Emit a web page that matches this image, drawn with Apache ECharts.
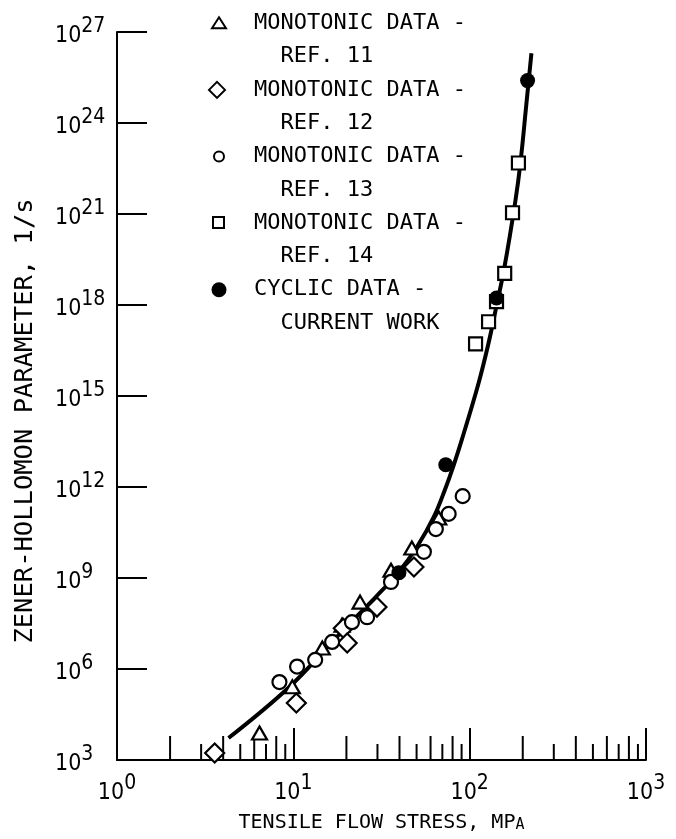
<!DOCTYPE html>
<html><head><meta charset="utf-8">
<script src="https://cdn.jsdelivr.net/npm/echarts@6/dist/echarts.min.js"></script>
<style>html,body{margin:0;padding:0;background:#fff}#c{width:676px;height:839px}</style>
</head><body><div id="c"></div>
<script>
// ---- data ----
const ref11 = [[6.43,7.8e3],[9.87,2.6e5],[14.6,4.9e6],[18.9,2.8e7],[23.9,1.6e8],[35.8,1.8e9],[47,9.8e9],[66.8,9.5e10]];
const ref12 = [[3.58,1.7e3],[10.4,7.6e4],[19.2,2.2e7],[20.2,7.2e6],[29.8,1.1e8],[48.3,2.3e9]];
const ref13 = [[8.34,3.7e5],[10.5,1.2e6],[13.3,2.0e6],[16.6,7.8e6],[21.5,3.5e7],[26.2,5.1e7],[35.8,7.4e8],[55,7.3e9],[64.3,4.1e10],[76,1.3e11],[91.3,5.0e11]];
const ref14 = [[108,5.2e16],[128,2.8e17],[142,1.3e18],[158,1.1e19],[175,1.1e21],[189,4.8e22]];
const cyclic = [[39.7,1.5e9],[73.2,5.4e12],[142,1.7e18],[213,2.5e25]];
const fitStress = [4.29,9.49,16.6,21.8,29.4,39.2,50.2,62.6,72.3,81.2,90.1,112.4,128,140.3,157.6,182,194,210,224];
const fitZ = [5.3e3,2.55e5,7.8e6,4.1e7,2.4e8,1.46e9,1.05e10,1.03e11,8.0e11,5.3e12,3.5e13,2.7e15,5.6e16,6.8e17,1.8e19,2.9e21,4.8e22,4.6e24,2.0e26];
const xMinorTicks = [2,3,4,5,6,7,8,9,20,30,40,50,60,70,80,90,200,300,400,500,600,700,800,900];
const legendLine1 = ['MONOTONIC DATA -','MONOTONIC DATA -','MONOTONIC DATA -','MONOTONIC DATA -','CYCLIC DATA -'];
const legendLine2 = ['REF. 11','REF. 12','REF. 13','REF. 14','CURRENT WORK'];
const xTitle = 'TENSILE FLOW STRESS, MP';
const xTitleSmall = 'A';
const yTitle = 'ZENER-HOLLOMON PARAMETER, 1/s';

const chart = echarts.init(document.getElementById('c'), null, {renderer:'canvas'});
const numFont = "'DejaVu Sans Condensed','Liberation Sans',sans-serif";
const monoFont = "'DejaVu Sans Mono',monospace";
const powRich = {
  b:{fontSize:23,lineHeight:32,fontFamily:numFont,color:'#000',verticalAlign:'bottom'},
  s:{fontSize:21,lineHeight:21,fontFamily:numFont,color:'#000',verticalAlign:'top'}
};
const powFmt = v => '{b|10}{s|' + Math.round(Math.log10(v)) + '}';
const hollow = {color:'#fff',borderColor:'#000',borderWidth:2.2,opacity:1};

// legend graphics
const graphics = [];
const legendTop = 23.3, lineStep = 33.3, symX = 219;
const legendShapes = [
  cy => ({type:'polygon',shape:{points:[[symX,cy-6],[symX+7,cy+5],[symX-7,cy+5]]},style:{fill:'#fff',stroke:'#000',lineWidth:2}}),
  cy => ({type:'polygon',shape:{points:[[symX-2,cy-8],[symX+6,cy],[symX-2,cy+8],[symX-10,cy]]},style:{fill:'#fff',stroke:'#000',lineWidth:2}}),
  cy => ({type:'circle',shape:{cx:symX,cy:cy,r:5},style:{fill:'#fff',stroke:'#000',lineWidth:2}}),
  cy => ({type:'rect',shape:{x:symX-6,y:cy-6,width:11,height:11},style:{fill:'#fff',stroke:'#000',lineWidth:2}}),
  cy => ({type:'circle',shape:{cx:symX,cy:cy,r:7.5},style:{fill:'#000'}})
];
legendLine1.forEach((t,i) => {
  const y1 = legendTop + lineStep*2*i, y2 = y1 + lineStep;
  graphics.push(legendShapes[i](y1));
  graphics.push({type:'text',x:254,y:y1,style:{text:t,font:"22px 'DejaVu Sans Mono',monospace",fill:'#000',verticalAlign:'middle',align:'left'}});
  graphics.push({type:'text',x:254,y:y2,style:{text:'  '+legendLine2[i],font:"22px 'DejaVu Sans Mono',monospace",fill:'#000',verticalAlign:'middle',align:'left'}});
});

chart.setOption({
  animation:false,
  backgroundColor:'#fff',
  grid:{left:117,right:30,top:32,bottom:79,containLabel:false,outerBoundsMode:'none'},
  xAxis:{
    type:'log',logBase:10,min:1,max:1000,
    name:'{n|'+xTitle+'}{sc|'+xTitleSmall+'}',nameLocation:'middle',nameGap:53,
    nameTextStyle:{rich:{
      n:{fontSize:20,lineHeight:20,fontFamily:monoFont,color:'#000',verticalAlign:'bottom'},
      sc:{fontSize:15,lineHeight:15,fontFamily:monoFont,color:'#000',verticalAlign:'bottom'}
    }},
    axisLine:{show:true,onZero:false,lineStyle:{color:'#000',width:2}},
    axisTick:{show:true,inside:true,length:32,lineStyle:{color:'#000',width:2}},
    axisLabel:{margin:13,fontSize:23,formatter:powFmt,rich:powRich},
    splitLine:{show:false}
  },
  yAxis:{
    type:'log',logBase:10,min:1e3,max:1e27,interval:3,
    name:yTitle,nameLocation:'middle',nameGap:79,
    nameTextStyle:{fontSize:25.5,fontFamily:monoFont,color:'#000',padding:[0,50,0,0]},
    axisLine:{show:true,onZero:false,lineStyle:{color:'#000',width:2}},
    axisTick:{show:true,inside:true,length:30,lineStyle:{color:'#000',width:2}},
    axisLabel:{margin:62,align:'left',fontSize:23,formatter:powFmt,rich:powRich},
    splitLine:{show:false}
  },
  graphic:graphics,
  series:[
    {type:'line',data:fitStress.map((x,i)=>[x,fitZ[i]]),smooth:0.4,symbol:'none',lineStyle:{color:'#000',width:4},z:2},
    {type:'scatter',name:'MONOTONIC DATA - REF. 11',data:ref11,symbol:'triangle',symbolSize:[15,13],itemStyle:hollow,z:3},
    {type:'scatter',name:'MONOTONIC DATA - REF. 12',data:ref12,symbol:'diamond',symbolSize:19,itemStyle:hollow,z:3},
    {type:'scatter',name:'MONOTONIC DATA - REF. 13',data:ref13,symbol:'circle',symbolSize:14,itemStyle:hollow,z:3},
    {type:'scatter',name:'MONOTONIC DATA - REF. 14',data:ref14,symbol:'rect',symbolSize:13,itemStyle:hollow,z:3},
    {type:'scatter',name:'CYCLIC DATA - CURRENT WORK',data:cyclic,symbol:'circle',symbolSize:15,itemStyle:{color:'#000',opacity:1},z:4},
    {type:'custom',name:'minor ticks',data:xMinorTicks.map(v=>[v,1e3]),clip:false,silent:true,z:1,
      renderItem:(params,api)=>{
        const v = api.value(0);
        const p = api.coord([v, api.value(1)]);
        const mant = Math.round(v/Math.pow(10,Math.floor(Math.log10(v)+1e-9)));
        const h = mant % 2 === 0 ? 24 : 16;
        return {type:'line',shape:{x1:p[0],y1:p[1],x2:p[0],y2:p[1]-h},style:{stroke:'#000',lineWidth:2}};
      }}
  ]
});
</script></body></html>
